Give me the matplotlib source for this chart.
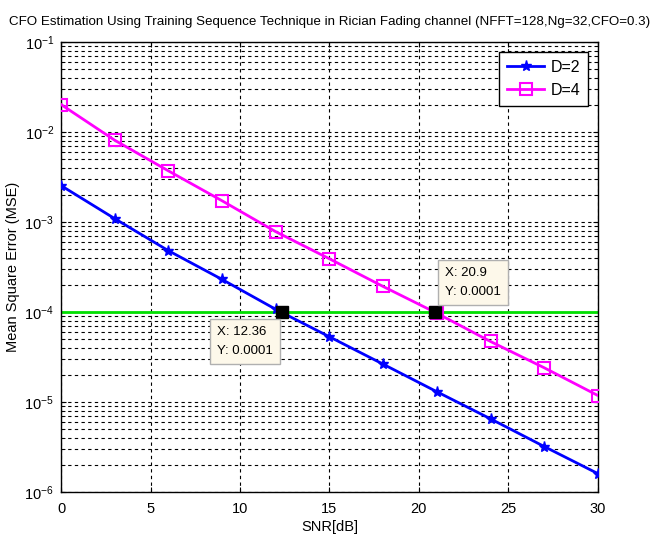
import numpy as np
import matplotlib
matplotlib.use('Agg')
import matplotlib.pyplot as plt
from matplotlib.ticker import LogLocator, NullFormatter

#%% Data

snr_db = [0, 3, 6, 9, 12, 15, 18, 21, 24, 27, 30]
mse_d2 = [2.54e-3, 1.09e-3, 4.8e-4, 2.3e-4, 1.07e-4, 5.3e-5, 2.63e-5, 1.3e-5, 6.5e-6, 3.2e-6, 1.6e-6]
mse_d4 = [2.02e-2, 8.1e-3, 3.7e-3, 1.72e-3, 7.8e-4, 3.9e-4, 1.92e-4, 9.7e-5, 4.7e-5, 2.4e-5, 1.18e-5]
mse_target = 1e-4
tip_x = [12.36, 20.9]

#%% Fonts

plt.rcParams['font.family'] = ['Liberation Sans', 'DejaVu Sans']
plt.rcParams['mathtext.fontset'] = 'custom'
plt.rcParams['mathtext.rm'] = 'Liberation Sans'
plt.rcParams['mathtext.it'] = 'Liberation Sans'

#%% Plot

fig = plt.figure(figsize=(6.52, 5.42), dpi=100)
ax = fig.add_axes([0.0936, 0.0923, 0.8234, 0.8302])

ax.semilogy(snr_db, mse_d2, '-*', color='blue', linewidth=2, markersize=8, label='D=2', zorder=3)
ax.semilogy(snr_db, mse_d4, '-s', color='magenta', linewidth=2, markersize=9,
            markerfacecolor='none', markeredgewidth=1.5, label='D=4', zorder=3)
ax.axhline(mse_target, color='#00e000', linewidth=2, zorder=2)

ax.set_xlim(0, 30)
ax.set_ylim(1e-6, 1e-1)
ax.set_xticks(range(0, 31, 5))
ax.yaxis.set_major_locator(LogLocator(base=10, numticks=10))
ax.yaxis.set_minor_locator(LogLocator(base=10, subs=np.arange(2, 10), numticks=20))
ax.yaxis.set_minor_formatter(NullFormatter())
ax.tick_params(which='both', direction='in', labelsize=10.5, top=True, right=True)
ax.tick_params(axis='x', which='major', pad=7)
ax.tick_params(axis='y', which='major', pad=5)
ax.tick_params(which='minor', length=3)

ax.grid(True, which='major', axis='both', color='black', linestyle=(0, (3, 3)), linewidth=0.8)
ax.grid(True, which='minor', axis='y', color='black', linestyle=(0, (3, 3)), linewidth=0.8)
for s in ax.spines.values():
    s.set_linewidth(1)

ax.set_xlabel('SNR[dB]', fontsize=10.5, labelpad=3)
ax.set_ylabel('Mean Square Error (MSE)', fontsize=10.5, labelpad=3)
ax.set_title('CFO Estimation Using Training Sequence Technique in Rician Fading channel (NFFT=128,Ng=32,CFO=0.3)',
             fontsize=9.6, pad=12)

leg = ax.legend(loc='upper right', fontsize=11.5, fancybox=False, edgecolor='black',
                framealpha=1, borderpad=0.5, handlelength=2.3, handletextpad=0.4,
                borderaxespad=0.6)
leg.get_frame().set_linewidth(1)

# data tips on the target MSE line
ax.plot(tip_x, [mse_target] * 2, 's', color='black', markersize=8, zorder=5)
box = dict(boxstyle='square,pad=0.55', facecolor='#fdf8ea', edgecolor='#b0b0b0')
ax.annotate('X: %.2f\nY: 0.0001' % tip_x[0], (tip_x[0], mse_target), xytext=(-47, -10),
            textcoords='offset points', ha='left', va='top', fontsize=9.5, bbox=box,
            linespacing=1.8, zorder=6)
ax.annotate('X: %.1f\nY: 0.0001' % tip_x[1], (tip_x[1], mse_target), xytext=(7, 10),
            textcoords='offset points', ha='left', va='bottom', fontsize=9.5, bbox=box,
            linespacing=1.8, zorder=6)

fig.savefig('out.png', dpi=100)
